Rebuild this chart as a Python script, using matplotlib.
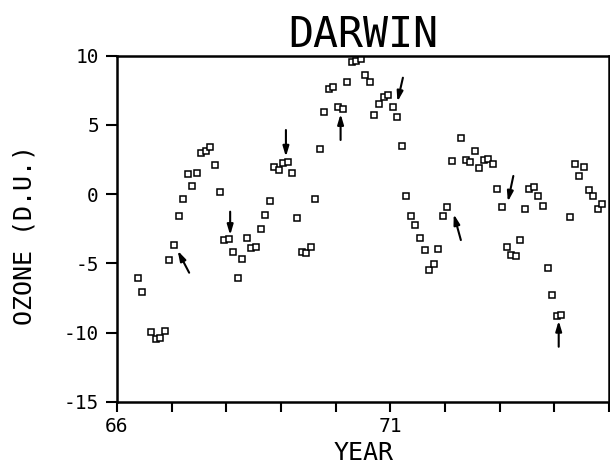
import matplotlib
matplotlib.use("Agg")
import matplotlib.pyplot as plt

plt.rcParams['font.family'] = ['DejaVu Sans Mono']
plt.rcParams['axes.unicode_minus'] = False

# monthly ozone anomalies (decimal year, D.U.)
year = [66.38, 66.46, 66.63, 66.71, 66.79, 66.88, 66.96,
        67.04, 67.13, 67.21, 67.29, 67.38, 67.46, 67.54, 67.63, 67.71, 67.79, 67.88, 67.96,
        68.04, 68.13, 68.21, 68.29, 68.38, 68.46, 68.54, 68.63, 68.71, 68.79, 68.88, 68.96,
        69.04, 69.13, 69.21, 69.29, 69.38, 69.46, 69.54, 69.63, 69.71, 69.79, 69.88, 69.96,
        70.04, 70.13, 70.21, 70.29, 70.38, 70.46, 70.54, 70.63, 70.71, 70.79, 70.88, 70.96,
        71.04, 71.13, 71.21, 71.29, 71.38, 71.46, 71.54, 71.63, 71.71, 71.79, 71.88, 71.96,
        72.04, 72.13, 72.29, 72.38, 72.46, 72.54, 72.63, 72.71, 72.79, 72.88, 72.96,
        73.04, 73.13, 73.21, 73.29, 73.38, 73.46, 73.54, 73.63, 73.71, 73.79, 73.88, 73.96,
        74.04, 74.13, 74.29, 74.38, 74.46, 74.54, 74.63, 74.71, 74.79, 74.88]
ozone = [-6.06, -7.07, -9.97, -10.49, -10.38, -9.89, -4.78,
         -3.68, -1.60, -0.33, 1.43, 0.59, 1.50, 2.95, 3.11, 3.42, 2.08, 0.17, -3.35,
         -3.28, -4.21, -6.06, -4.71, -3.17, -3.87, -3.84, -2.50, -1.51, -0.52, 1.96, 1.74,
         2.27, 2.32, 1.50, -1.73, -4.16, -4.26, -3.82, -0.33, 3.26, 5.91, 7.59, 7.76,
         6.27, 6.15, 8.12, 9.52, 9.64, 9.74, 8.61, 8.12, 5.69, 6.51, 6.99, 7.16,
         6.29, 5.55, 3.48, -0.16, -1.58, -2.25, -3.17, -4.06, -5.46, -5.03, -3.99, -1.60,
         -0.93, 2.37, 4.03, 2.46, 2.30, 3.14, 1.89, 2.46, 2.51, 2.17, 0.35,
         -0.91, -3.80, -4.42, -4.47, -3.32, -1.05, 0.35, 0.51, -0.14, -0.88, -5.32, -7.31,
         -8.79, -8.71, -1.68, 2.17, 1.33, 1.96, 0.30, -0.14, -1.08, -0.72]

# arrows: (tail x, tail y, head x, head y)
arrow_tail_x = [67.32, 68.07, 69.09, 70.09, 71.23, 72.29, 73.25, 74.08]
arrow_tail_y = [-5.68, -1.27, 4.63, 3.91, 8.41, -3.32, 1.31, -11.03]
arrow_head_x = [67.11, 68.07, 69.09, 70.09, 71.13, 72.16, 73.15, 74.08]
arrow_head_y = [-4.09, -2.96, 2.70, 5.79, 6.68, -1.45, -0.55, -9.15]

xticks = [66, 67, 68, 69, 70, 71, 72, 73, 74, 75]
xticklabels = ['66', '', '', '', '', '71', '', '', '', '']
yticks = [-15, -10, -5, 0, 5, 10]

fig = plt.figure(figsize=(6.1, 4.68), dpi=100)
ax = fig.add_axes([117/610, 1 - 401.7/468, (609-117)/610, (401.7-55.7)/468])

ax.plot(year, ozone, 's', ms=4.2, mfc='white', mec='black', mew=1.1, ls='none')

for tx, ty, hx, hy in zip(arrow_tail_x, arrow_tail_y, arrow_head_x, arrow_head_y):
    ax.annotate('', xy=(hx, hy), xytext=(tx, ty),
                arrowprops=dict(arrowstyle='-|>,head_length=0.6,head_width=0.18',
                                color='black', lw=1.5,
                                mutation_scale=10, shrinkA=0, shrinkB=0))

ax.set_xlim(66, 75)
ax.set_ylim(-15, 10)
ax.set_xticks(xticks)
ax.set_xticklabels(xticklabels)
ax.set_yticks(yticks)
ax.tick_params(axis='x', direction='out', length=7, width=1.5, pad=4, labelsize=14)
ax.tick_params(axis='y', direction='out', length=8, width=1.5, pad=5, labelsize=14)
for s in ax.spines.values():
    s.set_linewidth(1.8)

ax.set_title('DARWIN', fontsize=30, pad=6)
fig.text(364/610, 1 - 453/468, 'YEAR', fontsize=18, ha='center', va='center')
fig.text(25/610, 1 - 235/468, 'OZONE (D.U.)', fontsize=18, rotation=90,
         ha='center', va='center')

fig.savefig('out.png', dpi=100)
